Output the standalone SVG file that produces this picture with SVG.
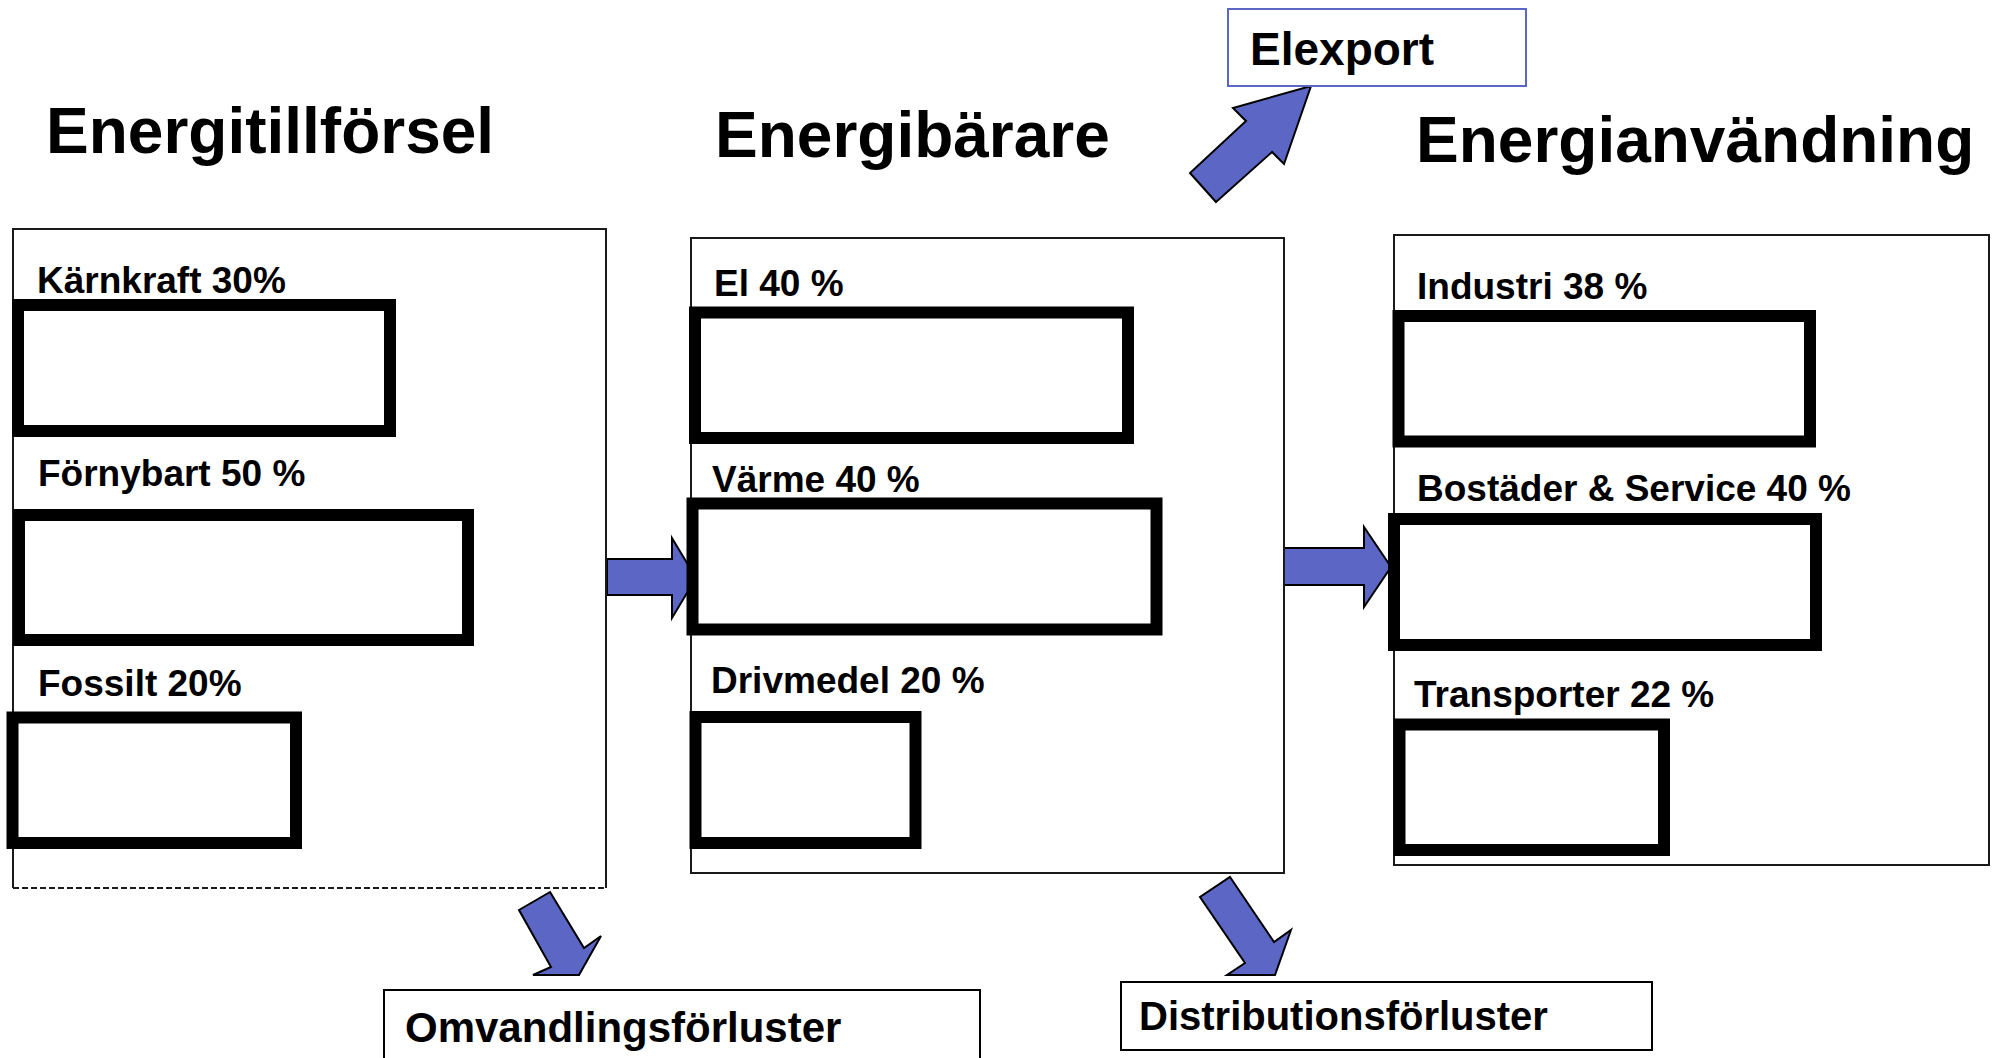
<svg xmlns="http://www.w3.org/2000/svg" width="1996" height="1058" viewBox="0 0 1996 1058">
<style>
text{font-family:"Liberation Sans",Arial,sans-serif;font-weight:bold;fill:#000}
.title{font-size:64px}
.lbl{font-size:37px}
.panel{fill:none;stroke:#1a1a1a;stroke-width:2}
.bar{fill:none;stroke:#000;stroke-width:12}
.arrow{fill:#5B66C5;stroke:#000;stroke-width:2;stroke-linejoin:miter}
.loss{fill:#fff;stroke:#000;stroke-width:2}
</style>
<rect width="1996" height="1058" fill="#fff"/>
<g id="titles">
<text class="title" x="46" y="153">Energitillförsel</text>
<text class="title" x="715" y="157">Energibärare</text>
<text class="title" x="1416" y="162">Energianvändning</text>
</g>
<g id="connectors">
<polygon id="arrow-tillforsel-barare" class="arrow" points="607,559 672,559 672,538 696,578 672,618 672,595 607,595"/>
<polygon id="arrow-barare-anvandning" class="arrow" points="1284,548 1364,548 1364,527 1391,567 1364,607 1364,585 1284,585"/>
<polygon id="arrow-elexport" class="arrow" points="1216,202 1272,152 1284,164 1311,86 1233,108 1246,121 1190,173"/>
<polygon id="arrow-omvandling" class="arrow" points="550,892 584,948 601,936 579,975 533,975 551,967 519,910"/>
<polygon id="arrow-distribution" class="arrow" points="1230,877 1274,942 1291,930 1275,975 1227,975 1245,963 1200,897"/>
</g>
<g id="panel-tillforsel">
<path class="panel" d="M13,888 V229 H606 V888"/>
<path class="panel" d="M13,888 H606" stroke-dasharray="6,3"/>
</g>
<g id="panel-barare"><rect class="panel" x="691" y="238" width="593" height="635"/></g>
<g id="panel-anvandning"><rect class="panel" x="1394" y="235" width="595" height="630"/></g>
<g id="karnkraft"><text class="lbl" x="37" y="293">Kärnkraft 30%</text><rect class="bar" x="18" y="305" width="372" height="126"/></g>
<g id="fornybart"><text class="lbl" x="38" y="486">Förnybart 50 %</text><rect class="bar" x="19" y="515" width="449" height="125"/></g>
<g id="fossilt"><text class="lbl" x="38" y="696">Fossilt 20%</text><rect class="bar" x="12.5" y="717.5" width="283.5" height="125.5"/></g>
<g id="el"><text class="lbl" x="714" y="296">El 40 %</text><rect class="bar" x="695" y="312.5" width="433" height="125.5"/></g>
<g id="varme"><text class="lbl" x="712" y="492">Värme 40 %</text><rect class="bar" x="692.5" y="503.5" width="464" height="126"/></g>
<g id="drivmedel"><text class="lbl" x="711" y="693">Drivmedel 20 %</text><rect class="bar" x="695.5" y="717" width="220" height="126"/></g>
<g id="industri"><text class="lbl" x="1417" y="299">Industri 38 %</text><rect class="bar" x="1398.5" y="316" width="411.5" height="125.5"/></g>
<g id="bostader"><text class="lbl" x="1417" y="501">Bostäder &amp; Service 40 %</text><rect class="bar" x="1394" y="519" width="422" height="126"/></g>
<g id="transporter"><text class="lbl" x="1414" y="707">Transporter 22 %</text><rect class="bar" x="1399.5" y="724.5" width="264.5" height="125.5"/></g>
<g id="elexport"><rect x="1228" y="9" width="298" height="77" fill="#fff" stroke="#5B66C5" stroke-width="2"/><text x="1250" y="65" font-size="46">Elexport</text></g>
<g id="omvandlingsforluster"><rect class="loss" x="384" y="990" width="596" height="80"/><text x="405" y="1042" font-size="42">Omvandlingsförluster</text></g>
<g id="distributionsforluster"><rect class="loss" x="1121" y="982" width="531" height="68"/><text x="1139" y="1030" font-size="40">Distributionsförluster</text></g>
</svg>
